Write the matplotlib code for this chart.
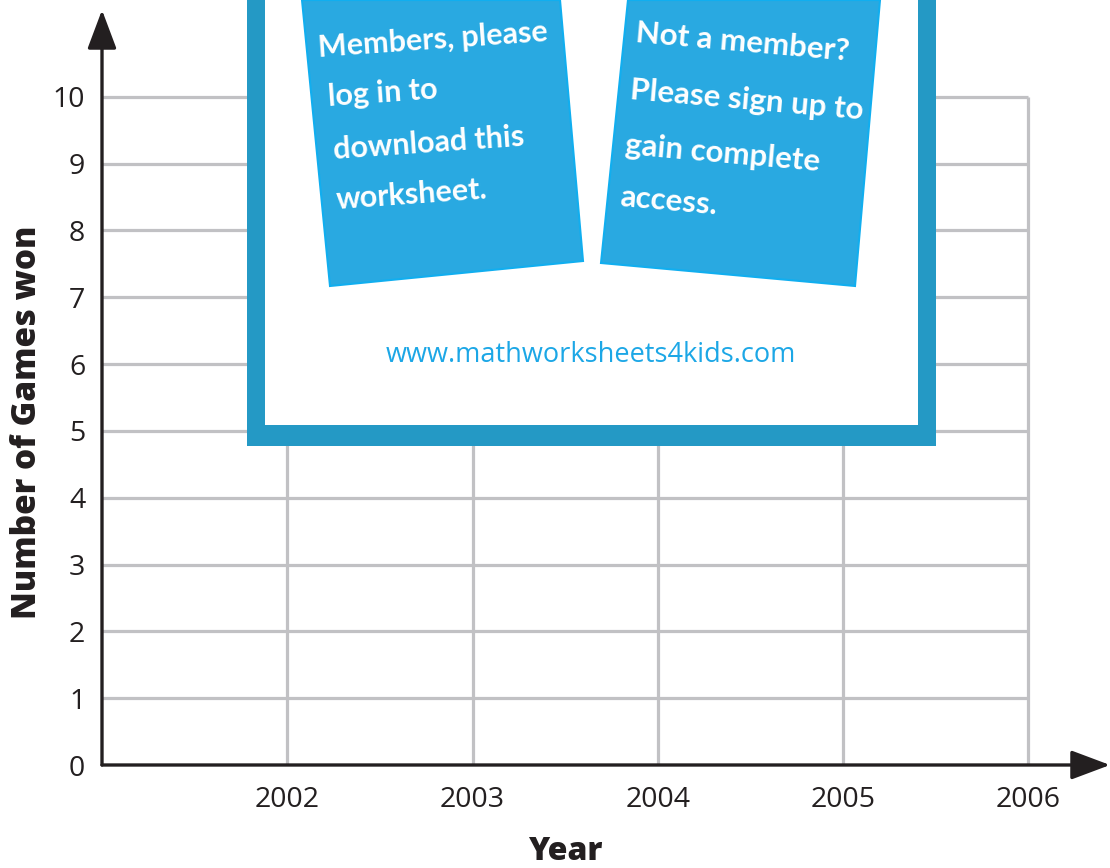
import matplotlib
matplotlib.use('Agg')
import matplotlib.pyplot as plt
from matplotlib.patches import Polygon, Rectangle
from matplotlib.transforms import Affine2D

# data: empty worksheet grid
years = [2002, 2003, 2004, 2005, 2006]
games_ticks = list(range(0, 11))
ylabel = 'Number of Games won'
xlabel = 'Year'

left_note = ['Members, please', 'log in to', 'download this', 'worksheet.']
right_note = ['Not a member?', 'Please sign up to', 'gain complete', 'access.']
site = 'www.mathworksheets4kids.com'

plt.rcParams['font.family'] = ['Open Sans', 'DejaVu Sans']

W, H = 1110, 868
fig = plt.figure(figsize=(W / 100, H / 100), dpi=100)
fig.patch.set_facecolor('white')

# axes placed so that the origin sits at px (102, 765)
x0, x1 = 2001.0, 2006.44
y0, y1 = 0.0, 11.3
ax = fig.add_axes([102 / W, (H - 765) / H, (W - 102) / W, (765 - 10) / H])
ax.set_xlim(x0, x1)
ax.set_ylim(y0, y1)
for s in ax.spines.values():
    s.set_visible(False)
ax.tick_params(length=0, labelsize=20.5, colors='#231f20')
ax.set_xticks(years)
ax.set_xticklabels([str(y) for y in years])
ax.set_yticks(games_ticks)
ax.set_yticklabels([str(v) for v in games_ticks])
ax.tick_params(axis='x', pad=15)
ax.tick_params(axis='y', pad=12)

grid_c = '#c1c1c4'
ax.hlines(games_ticks[1:], x0, years[-1], color=grid_c, lw=2.3, zorder=1)
ax.vlines(years, 0, games_ticks[-1], color=grid_c, lw=2.3, zorder=1)

# axes with arrows
arr = dict(arrowstyle='-|>,head_length=1.2,head_width=0.45', color='#231f20',
           lw=2.4, shrinkA=0, shrinkB=0, mutation_scale=20)
ax.annotate('', xy=(x0, y1), xytext=(x0, 0), arrowprops=arr,
            annotation_clip=False, zorder=5)
ax.annotate('', xy=(x1, 0), xytext=(x0, 0), arrowprops=arr,
            annotation_clip=False, zorder=5)

fig.text(27 / W, 1 - 422 / H, ylabel, rotation=90, ha='center', va='center',
         fontsize=24, fontweight='heavy', color='#231f20')
fig.text(565 / W, 1 - 852 / H, xlabel, ha='center', va='center',
         fontsize=23, fontweight='heavy', color='#231f20')

# watermark overlay in pixel coordinates
px = Affine2D().scale(1, -1).translate(0, H).scale(1 / W, 1 / H) + fig.transFigure
frame_c = '#2499c5'
panel_c = '#29a9e1'
fig.patches.append(Rectangle((247, -10), 689, 456, transform=px,
                             facecolor=frame_c, edgecolor='none', zorder=10))
fig.patches.append(Rectangle((265, -10), 653, 435, transform=px,
                             facecolor='white', edgecolor='none', zorder=11))
fig.patches.append(Polygon([(302, 0), (560, 0), (583, 261), (330, 286)],
                           closed=True, transform=px, facecolor=panel_c,
                           edgecolor='#11aeef', lw=1.5, zorder=12))
fig.patches.append(Polygon([(628, 0), (880, 0), (855, 286), (601, 263)],
                           closed=True, transform=px, facecolor=panel_c,
                           edgecolor='#11aeef', lw=1.5, zorder=12))

hand = ['Lato', 'DejaVu Sans']
lpos = [(318, 48), (328, 97), (333, 150), (336, 200)]
for txt, (tx, ty) in zip(left_note, lpos):
    fig.text(tx / W, 1 - ty / H, txt, ha='left', va='center', rotation=4,
             rotation_mode='anchor', fontsize=22, fontweight='bold',
             color='white', family=hand, zorder=13)
rpos = [(636, 33), (630, 90), (625, 145), (620, 197)]
for txt, (tx, ty) in zip(right_note, rpos):
    fig.text(tx / W, 1 - ty / H, txt, ha='left', va='center', rotation=-5,
             rotation_mode='anchor', fontsize=22.5, fontweight='bold',
             color='white', family=hand, zorder=13)

fig.text(591 / W, 1 - 355 / H, site, ha='center', va='center', fontsize=19.5,
         color='#1ca7e6', zorder=13)

plt.savefig('out.png', dpi=100)
